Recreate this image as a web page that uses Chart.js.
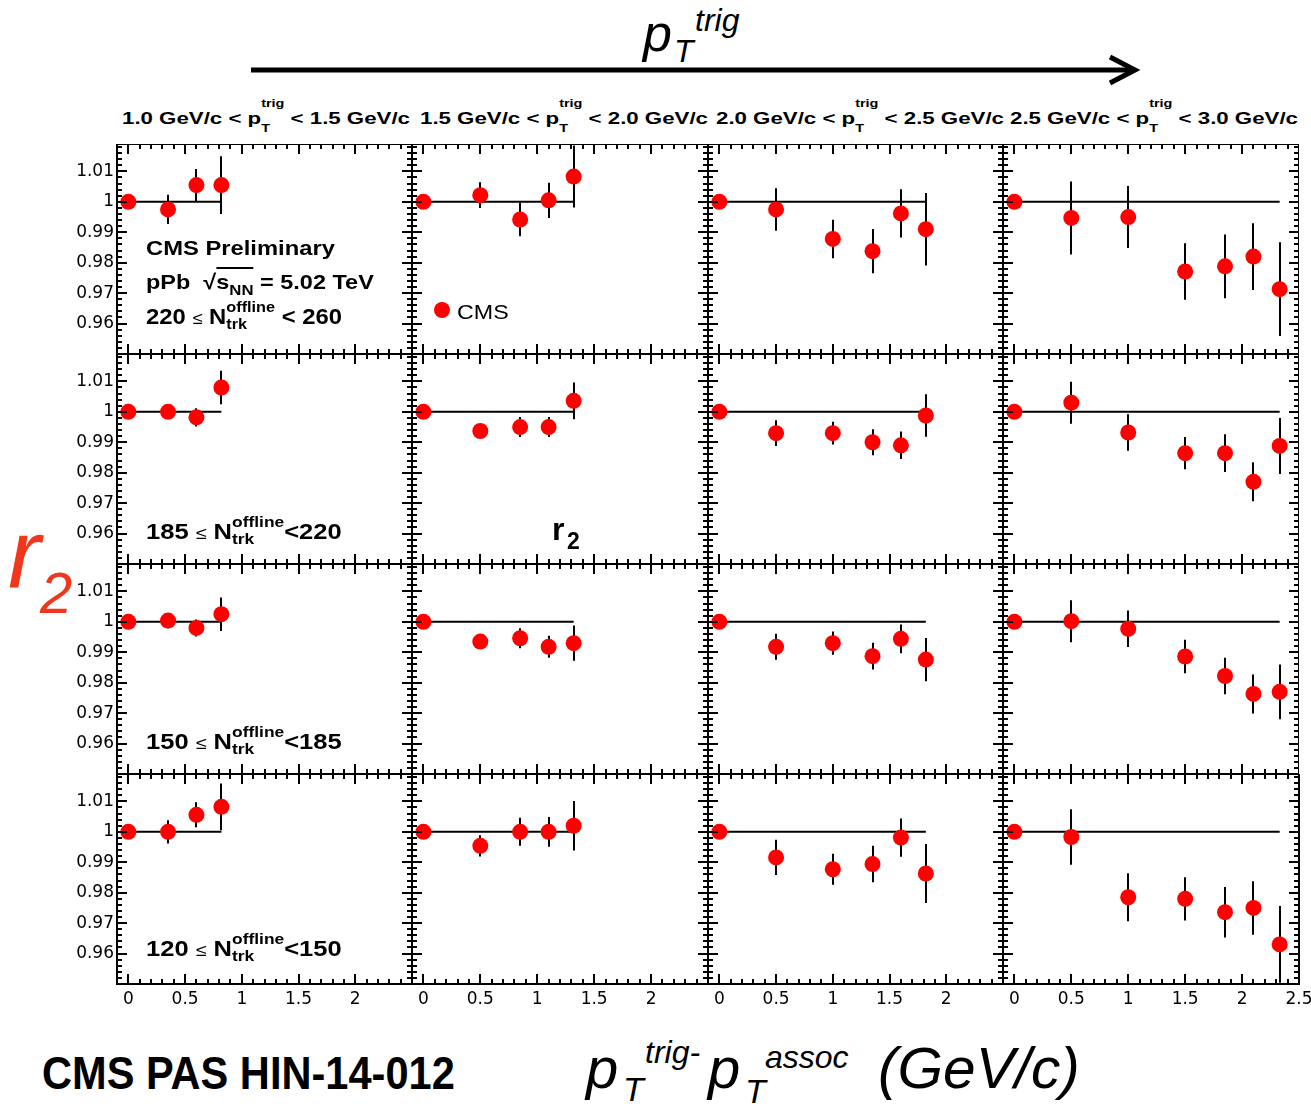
<!DOCTYPE html>
<html>
<head>
<meta charset="utf-8">
<script src="https://cdn.jsdelivr.net/npm/chart.js@4.4.1/dist/chart.umd.min.js"></script>
<style>
body { margin: 0; width: 1311px; height: 1104px; background: #fff; position: relative; overflow: hidden; font-family: "Liberation Sans", Arial, sans-serif; color: #000; }
canvas { position: absolute; }
.abs { position: absolute; white-space: nowrap; line-height: 1; transform-origin: 0 0; }
.st { display: inline-block; position: relative; line-height: 1; }
.st .u { position: relative; }
.st .d { position: absolute; left: 0; }
</style>
</head>
<body>
<svg width="1311" height="110" style="position:absolute;left:0;top:0">
  <line x1="251" y1="70" x2="1132" y2="70" stroke="#000" stroke-width="5"/>
  <polyline points="1110,57 1135,70 1110,83" fill="none" stroke="#000" stroke-width="5"/>
</svg>
<script>
// x positions (pT^trig - pT^assoc) per pT^trig column
const xCol1 = [0, 0.35, 0.6, 0.82];
const xCol2 = [0, 0.5, 0.85, 1.1, 1.32];
const xCol3 = [0, 0.5, 1.0, 1.35, 1.6, 1.82];
const xCol4 = [0, 0.5, 1.0, 1.5, 1.85, 2.1, 2.33];

// r2 values, one row per multiplicity bin, one inner array per column
const r2_220_260 = [
    [1, 0.9975, 1.0055, 1.0055],
    [1, 1.0022, 0.9942, 1.0005, 1.0083],
    [1, 0.9975, 0.9878, 0.9838, 0.9962, 0.991],
    [1, 0.9947, 0.995, 0.9771, 0.9788, 0.982, 0.9713]
];
const err_220_260 = [
    [0, 0.0048, 0.0053, 0.0095],
    [0, 0.0042, 0.0055, 0.0058, 0.0102],
    [0, 0.007, 0.0063, 0.0073, 0.0079, 0.0119],
    [0, 0.012, 0.0102, 0.0093, 0.0105, 0.011, 0.0154]
];
const r2_185_220 = [
    [1, 1.0, 0.9982, 1.008],
    [1, 0.9937, 0.995, 0.995, 1.0036],
    [1, 0.993, 0.993, 0.990, 0.989, 0.9988],
    [1, 1.003, 0.9932, 0.9864, 0.9864, 0.977, 0.9888]
];
const err_185_220 = [
    [0, 0.001, 0.003, 0.0055],
    [0, 0.001, 0.0033, 0.0033, 0.006],
    [0, 0.0042, 0.0037, 0.0043, 0.0045, 0.007],
    [0, 0.0069, 0.006, 0.0053, 0.0062, 0.0064, 0.0092]
];
const r2_150_185 = [
    [1, 1.0004, 0.998, 1.0025],
    [1, 0.9935, 0.9946, 0.9918, 0.993],
    [1, 0.9918, 0.993, 0.9887, 0.9944, 0.9876],
    [1, 1.0002, 0.9977, 0.9886, 0.9822, 0.9763, 0.977]
];
const err_150_185 = [
    [0, 0.0025, 0.0028, 0.0055],
    [0, 0.001, 0.0033, 0.0036, 0.0058],
    [0, 0.0043, 0.0038, 0.0044, 0.0047, 0.0071],
    [0, 0.0069, 0.006, 0.0055, 0.006, 0.0064, 0.009]
];
const r2_120_150 = [
    [1, 1.0, 1.0056, 1.0082],
    [1, 0.9954, 1.0, 1.0, 1.002],
    [1, 0.9916, 0.9877, 0.9894, 0.9981, 0.9863],
    [1, 0.9983, 0.9785, 0.978, 0.9736, 0.975, 0.963]
];
const err_120_150 = [
    [0, 0.0038, 0.0041, 0.0077],
    [0, 0.0035, 0.0046, 0.0049, 0.0081],
    [0, 0.0058, 0.0051, 0.006, 0.0063, 0.0097],
    [0, 0.0091, 0.0079, 0.0071, 0.0083, 0.0088, 0.0126]
];

const yTickValues = [0.96, 0.97, 0.98, 0.99, 1, 1.01];
const yTickLabels = ['0.96', '0.97', '0.98', '0.99', '1', '1.01'];
const xTickValues = [0, 0.5, 1, 1.5, 2, 2.5];
const xTickLabels = ['0', '0.5', '1', '1.5', '2', '2.5'];

const trigBins = ['1.0', '1.5', '2.0', '2.5', '3.0'];
const multBins = ['220', '185', '150', '120'];

const xCols = [xCol1, xCol2, xCol3, xCol4];
const r2Rows = [r2_220_260, r2_185_220, r2_150_185, r2_120_150];
const errRows = [err_220_260, err_185_220, err_150_185, err_120_150];

const colLeft = [117, 412, 708, 1003];
const colWidth = [295, 296, 295, 296];
const rowTop = [144, 354, 564, 774];
const rowHeight = 210;

// error bars, drawn under the markers
const errorBars = {
    id: 'errorBars',
    beforeDatasetsDraw(chart) {
        let ctx = chart.ctx;
        let area = chart.chartArea;
        let ds = chart.data.datasets[1];
        let xs = chart.scales.x;
        let ys = chart.scales.y;
        ctx.save();
        ctx.beginPath();
        ctx.rect(area.left, area.top, area.right - area.left, area.bottom - area.top);
        ctx.clip();
        ctx.strokeStyle = '#000';
        ctx.lineWidth = 2;
        ds.data.forEach((p, i) => {
            let e = ds.errors[i];
            if (!e) return;
            let px = Math.round(xs.getPixelForValue(p.x));
            ctx.beginPath();
            ctx.moveTo(px, ys.getPixelForValue(p.y + e));
            ctx.lineTo(px, ys.getPixelForValue(p.y - e));
            ctx.stroke();
        });
        ctx.restore();
    }
};

// ROOT style frame with ticks pointing inwards on all four sides
const frameTicks = {
    id: 'frameTicks',
    afterDraw(chart) {
        let ctx = chart.ctx;
        let a = chart.chartArea;
        let xs = chart.scales.x;
        let ys = chart.scales.y;
        ctx.save();
        ctx.strokeStyle = '#000';
        ctx.lineWidth = 2;
        ctx.strokeRect(a.left, a.top, a.right - a.left, a.bottom - a.top);
        ctx.beginPath();
        for (let i = -1; i <= 25; i++) {
            let px = Math.round(xs.getPixelForValue(i / 10));
            let len = i % 5 === 0 ? 10 : 5;
            ctx.moveTo(px, a.bottom); ctx.lineTo(px, a.bottom - len);
            ctx.moveTo(px, a.top); ctx.lineTo(px, a.top + len);
        }
        for (let i = 475; i <= 509; i++) {
            let py = Math.round(ys.getPixelForValue(i / 500));
            let len = i % 5 === 0 ? 10 : 5;
            ctx.moveTo(a.left, py); ctx.lineTo(a.left + len, py);
            ctx.moveTo(a.right, py); ctx.lineTo(a.right - len, py);
        }
        ctx.stroke();
        ctx.restore();
    }
};

function makePanel(r, c) {
    let xsData = xCols[c];
    let ysData = r2Rows[r][c];
    let errs = errRows[r][c];
    let showY = c === 0;
    let showX = r === 3;
    let extraLeft = showY ? 57 : 0;
    let extraBottom = showX ? 32 : 0;
    let extraRight = (c === 3 && showX) ? 12 : 0;

    let canvas = document.createElement('canvas');
    let w = colWidth[c] + extraLeft + extraRight;
    let h = rowHeight + extraBottom;
    canvas.width = w;
    canvas.height = h;
    canvas.style.left = (colLeft[c] - extraLeft) + 'px';
    canvas.style.top = rowTop[r] + 'px';
    canvas.style.width = w + 'px';
    canvas.style.height = h + 'px';
    document.body.appendChild(canvas);

    let xLabels = c === 3 ? xTickValues : xTickValues.slice(0, 5);

    new Chart(canvas, {
        type: 'scatter',
        data: {
            datasets: [
                {
                    data: [{ x: 0, y: 1 }, { x: xsData[xsData.length - 1], y: 1 }],
                    showLine: true,
                    borderColor: '#000',
                    borderWidth: 2,
                    pointRadius: 0,
                    order: 2
                },
                {
                    data: xsData.map((x, i) => ({ x: x, y: ysData[i] })),
                    errors: errs,
                    backgroundColor: '#ff0000',
                    borderWidth: 0,
                    pointRadius: 8,
                    order: 1
                }
            ]
        },
        options: {
            animation: false,
            responsive: false,
            devicePixelRatio: 1,
            layout: { padding: { left: 0, right: extraRight, top: 0, bottom: 0 }, autoPadding: false },
            plugins: {
                legend: { display: false },
                tooltip: { enabled: false }
            },
            scales: {
                x: {
                    type: 'linear',
                    min: -0.1,
                    max: 2.5,
                    display: showX,
                    grid: { display: false, drawTicks: false },
                    border: { display: false },
                    afterBuildTicks: (scale) => { scale.ticks = xLabels.map(v => ({ value: v })); },
                    afterFit: (scale) => {
                        if (showX) scale.height = 32;
                        scale.paddingLeft = 0;
                        scale.paddingRight = 0;
                    },
                    ticks: {
                        autoSkip: false,
                        maxRotation: 0,
                        padding: 5,
                        color: '#000',
                        font: { family: 'DejaVu Sans', size: 17 },
                        callback: (v, i) => xTickLabels[xTickValues.indexOf(v)]
                    }
                },
                y: {
                    type: 'linear',
                    min: 0.95,
                    max: 1.019,
                    display: showY,
                    grid: { display: false, drawTicks: false },
                    border: { display: false },
                    afterBuildTicks: (scale) => { scale.ticks = yTickValues.map(v => ({ value: v })); },
                    afterFit: (scale) => {
                        if (showY) scale.width = 57;
                        scale.paddingTop = 0;
                        scale.paddingBottom = 0;
                    },
                    ticks: {
                        autoSkip: false,
                        padding: 3,
                        color: '#000',
                        font: { family: 'DejaVu Sans', size: 17 },
                        callback: (v, i) => yTickLabels[i]
                    }
                }
            }
        },
        plugins: [errorBars, frameTicks]
    });
}

for (let r = 0; r < 4; r++) {
    for (let c = 0; c < 4; c++) {
        makePanel(r, c);
    }
}

// ---- texts ----
function stack(sup, sub, fs, rise, drop) {
    return '<span class="st" style="font-size:' + fs + 'px"><span class="u" style="top:-' + rise + 'px">' + sup +
        '</span><span class="d" style="top:' + drop + 'px">' + sub + '</span></span>';
}

function addText(html, left, baseline, size, style, right) {
    let d = document.createElement('div');
    d.className = 'abs';
    d.style.cssText = 'left:' + left + 'px;top:' + (baseline - 0.8465 * size) + 'px;font-size:' + size + 'px;' + (style || '');
    d.innerHTML = html;
    document.body.appendChild(d);
    if (right) {
        let k = (right - left) / d.offsetWidth;
        d.style.transform = 'scaleX(' + k + ')';
    }
    return d;
}

// big top label
addText('p', 643, 51, 52, 'font-style:italic');
addText('T', 674, 62, 32, 'font-style:italic');
addText('trig', 695, 31, 32, 'font-style:italic');

// column headers
let titleSpan = [[122, 410], [420, 708], [716, 1004], [1010, 1298]];
for (let c = 0; c < 4; c++) {
    let html = trigBins[c] + ' GeV/c &lt; p' + stack('trig', 'T', 11, 17, 8) + ' &lt; ' + trigBins[c + 1] + ' GeV/c';
    addText(html, titleSpan[c][0], 124, 17, 'font-weight:bold', titleSpan[c][1]);
}

// y axis title
addText('r', 8, 588, 98, 'font-style:italic;color:#f2361b');
addText('2', 40, 613, 58, 'font-style:italic;color:#f2361b');

// panel annotations
addText('CMS Preliminary', 146, 255, 21, 'font-weight:bold', 335);
addText('pPb&nbsp;&nbsp;√<span style="border-top:2px solid #000;padding-top:1px">s<span style="font-size:15px;position:relative;top:6px">NN</span></span> = 5.02 TeV',
    146, 289, 21, 'font-weight:bold', 374);
let nUpper = [' &lt; 260', '&lt;220', '&lt;185', '&lt;150'];
let nBase = [325, 540, 750, 957];
for (let r = 0; r < 4; r++) {
    addText(multBins[r] + ' <span style="font-weight:normal;font-size:17px">≤</span> N' + stack('offline', 'trk', 15, 12, 5) + nUpper[r],
        146, nBase[r], 22, 'font-weight:bold', 342);
}

// legend
let dot = document.createElement('div');
dot.style.cssText = 'position:absolute;left:434px;top:302px;width:16px;height:16px;border-radius:50%;background:#ff0000';
document.body.appendChild(dot);
addText('CMS', 457, 319, 21, '', 509);

// r2 in the second row
addText('r', 552, 540, 32, 'font-weight:bold');
addText('2', 567, 549, 23, 'font-weight:bold');

// bottom labels
addText('CMS PAS HIN-14-012', 42, 1089, 46, 'font-weight:bold', 455);
addText('p', 586, 1088, 58, 'font-style:italic');
addText('T', 623, 1101, 34, 'font-style:italic');
addText('trig-', 645, 1063, 32, 'font-style:italic');
addText('p', 708, 1088, 58, 'font-style:italic');
addText('T', 745, 1103, 34, 'font-style:italic');
addText('assoc', 765, 1068, 32, 'font-style:italic');
addText('(GeV/c)', 878, 1088, 58, 'font-style:italic', 1080);
</script>
</body>
</html>
